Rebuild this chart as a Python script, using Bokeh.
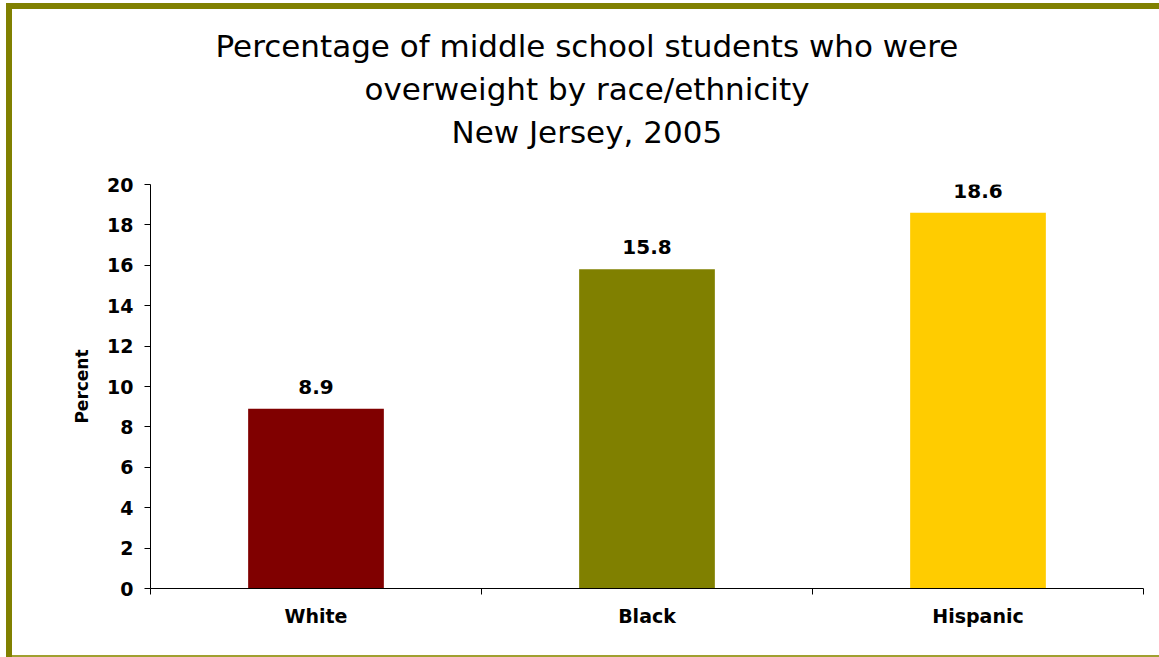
from bokeh.plotting import figure
from bokeh.models import (Range1d, LinearAxis, FixedTicker, Title, ColumnDataSource, LabelSet)
from bokeh.core.properties import value
from bokeh.embed import file_html
from bokeh.resources import INLINE

categories = ["White", "Black", "Hispanic"]
values = [8.9, 15.8, 18.6]
colors = ["#800000", "#808000", "#FFCC00"]
value_labels = ["8.9", "15.8", "18.6"]
y_ticks = [0, 2, 4, 6, 8, 10, 12, 14, 16, 18, 20]
title_lines = ["Percentage of middle school students who were",
               "overweight by race/ethnicity",
               "New Jersey, 2005"]
title_offsets = [65, 214, 301]

FONT = "DejaVu Sans"
W, H = 1159, 657

n = len(categories)
centers = [i + 0.5 for i in range(n)]
boundaries = [float(i) for i in range(n + 1)]

p = figure(width=W, height=H, x_range=Range1d(0, n), y_range=Range1d(0, 20),
           output_backend="svg", toolbar_location=None, x_axis_location=None,
           min_border_left=150, min_border_right=16, min_border_top=184, min_border_bottom=69)
p.outline_line_color = None
p.xgrid.grid_line_color = None
p.ygrid.grid_line_color = None
p.background_fill_color = "white"
p.border_fill_color = None
p.styles = {"background-color": "white",
            "box-shadow": "inset 6px 3px 0 0 white, inset 12px 9px 0 0 #808000, "
                          "inset 0 -2px 0 0 #a0a030"}

src = ColumnDataSource(dict(x=centers, val=values, col=colors, lab=value_labels))
p.vbar(x="x", top="val", width=0.41, fill_color="col", line_color=None, source=src)

p.add_layout(LabelSet(x="x", y="val", text="lab", source=src, text_align="center",
                      text_baseline="alphabetic", y_offset=15, text_font=value(FONT),
                      text_font_style="bold", text_font_size="20px", text_color="black"))

# y axis
ya = p.yaxis[0]
ya.ticker = FixedTicker(ticks=y_ticks)
ya.major_tick_in = 0
ya.major_tick_out = 6
ya.minor_tick_line_color = None
ya.axis_line_color = "black"
ya.major_tick_line_color = "black"
ya.major_label_text_font = FONT
ya.major_label_text_font_style = "bold"
ya.major_label_text_font_size = "19px"
ya.major_label_text_color = "black"
ya.major_label_standoff = 11
ya.axis_label = "Percent"
ya.axis_label_text_font = FONT
ya.axis_label_text_font_style = "bold"
ya.axis_label_text_font_size = "17px"
ya.axis_label_text_color = "black"
ya.axis_label_standoff = 12

# x axis: boundary ticks, then category labels
tick_axis = LinearAxis(ticker=FixedTicker(ticks=boundaries),
                       major_label_overrides={b: "" for b in boundaries},
                       major_tick_in=0, major_tick_out=6, minor_tick_line_color=None,
                       axis_line_color="black", major_tick_line_color="black",
                       major_label_text_font_size="1px", major_label_standoff=0)
p.add_layout(tick_axis, "below")
label_axis = LinearAxis(ticker=FixedTicker(ticks=centers),
                        major_label_overrides={c: cat for c, cat in zip(centers, categories)},
                        axis_line_color=None, major_tick_line_color=None,
                        minor_tick_line_color=None, major_label_text_color="black",
                        major_label_text_font=FONT, major_label_text_font_style="bold",
                        major_label_text_font_size="19px", major_label_standoff=4)
p.add_layout(label_axis, "below")

# spacer between frame and title block
p.add_layout(Title(text=" ", text_font_size="20px", standoff=8), "above")
# titles (closest to frame first)
for t, off in reversed(list(zip(title_lines, title_offsets))):
    p.add_layout(Title(text=t, align="left", offset=off, text_font=FONT,
                       text_font_style="normal", text_font_size="31px",
                       text_color="black", standoff=5), "above")

open("out.html", "w").write(file_html(p, INLINE))
